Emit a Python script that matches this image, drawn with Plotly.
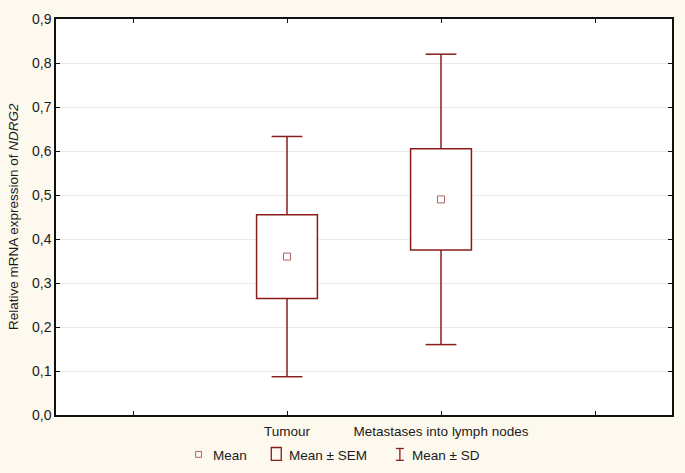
import plotly.graph_objects as go

# data
groups = ["Tumour", "Metastases into lymph nodes"]
group_pos = [1, 2]
means = [0.36, 0.49]
sems = [0.095, 0.115]
sds = [0.273, 0.33]
tick_positions = [0, 1, 2, 3]
tick_labels = ["", "Tumour", "Metastases into lymph nodes", ""]
y_ticks = [0.0, 0.1, 0.2, 0.3, 0.4, 0.5, 0.6, 0.7, 0.8, 0.9]

RED = "#8B1C1C"
MEANC = "#b06466"
BG = "#fdf9ee"
BOX_W = 0.395
CAP = 0.1

q1 = [m - s for m, s in zip(means, sems)]
q3 = [m + s for m, s in zip(means, sems)]
lo = [m - s for m, s in zip(means, sds)]
hi = [m + s for m, s in zip(means, sds)]

fig = go.Figure()
# SEM boxes
fig.add_trace(go.Bar(
    x=group_pos, y=[2 * s for s in sems], base=q1, width=BOX_W,
    marker=dict(color="white", line=dict(color=RED, width=1.5)),
    showlegend=False, hoverinfo="skip"))

# SD whiskers built from the data
wx, wy = [], []
for xp, a, b, c, d in zip(group_pos, q3, hi, q1, lo):
    wx += [xp, xp, None, xp - CAP, xp + CAP, None,
           xp, xp, None, xp - CAP, xp + CAP, None]
    wy += [a, b, None, b, b, None, c, d, None, d, d, None]
fig.add_trace(go.Scatter(x=wx, y=wy, mode="lines", line=dict(color=RED, width=1.5),
                         showlegend=False, hoverinfo="skip"))

fig.add_trace(go.Scatter(
    x=group_pos, y=means, mode="markers", showlegend=False,
    marker=dict(symbol="square-open", size=7, color=MEANC, line=dict(width=1))))

fig.update_layout(
    width=685, height=473,
    paper_bgcolor=BG, plot_bgcolor="white",
    margin=dict(l=56, r=11, t=13, b=58),
    separators=", ",
    font=dict(family="Liberation Sans, Arial, sans-serif", color="#1a1a1a", size=13.5),
    showlegend=False,
)
fig.update_xaxes(
    range=[-0.5, 3.5], tickmode="array", tickvals=tick_positions, ticktext=tick_labels,
    ticks="inside", ticklen=4, tickcolor="#111", showline=True, linecolor="#111",
    linewidth=1.5, mirror="allticks", showgrid=False, zeroline=False,
    ticklabelstandoff=3,
    tickfont=dict(size=13.5, color="#1a1a1a"))
fig.update_yaxes(
    range=[0, 0.9], tickmode="array", tickvals=y_ticks, tickformat=".1f",
    ticks="inside", ticklen=4, tickcolor="#111", showline=True, linecolor="#111",
    linewidth=1.5, mirror="allticks", showgrid=True, gridcolor="#ebebeb",
    gridwidth=1, zeroline=False, tickfont=dict(size=14, color="#1a1a1a"))

fig.add_annotation(
    text="Relative mRNA expression of <i>NDRG2</i>", textangle=-90,
    xref="paper", yref="paper", x=0, y=0.5, xshift=-43,
    xanchor="center", yanchor="middle", showarrow=False,
    font=dict(size=13.5, color="#1a1a1a"))

# legend (drawn manually)
def px_x(p):
    return (p - 56) / 618

def px_y(p):
    return (415 - p) / 402

shapes = [
    dict(type="rect", xref="paper", yref="paper", x0=px_x(196), x1=px_x(202),
         y0=px_y(452), y1=px_y(458), line=dict(color=MEANC, width=1)),
    dict(type="rect", xref="paper", yref="paper", x0=px_x(272), x1=px_x(282),
         y0=px_y(448), y1=px_y(461), line=dict(color=RED, width=1.3)),
    dict(type="line", xref="paper", yref="paper", x0=px_x(401), x1=px_x(401),
         y0=px_y(449), y1=px_y(461), line=dict(color=RED, width=1.3)),
    dict(type="line", xref="paper", yref="paper", x0=px_x(397), x1=px_x(405),
         y0=px_y(449), y1=px_y(449), line=dict(color=RED, width=1.3)),
    dict(type="line", xref="paper", yref="paper", x0=px_x(397), x1=px_x(405),
         y0=px_y(461), y1=px_y(461), line=dict(color=RED, width=1.3)),
]
for s in shapes:
    fig.add_shape(**s)

legend_texts = [("Mean", 212), ("Mean ± SEM", 288), ("Mean ± SD", 411)]
for t, xp in legend_texts:
    fig.add_annotation(text=t, xref="paper", yref="paper", x=px_x(xp), y=px_y(456),
                       xanchor="left", yanchor="middle", showarrow=False,
                       font=dict(size=13.5, color="#1a1a1a"))

fig.write_html("out.html", config={"displayModeBar": False},
               post_script="document.body.style.margin='0px';")
